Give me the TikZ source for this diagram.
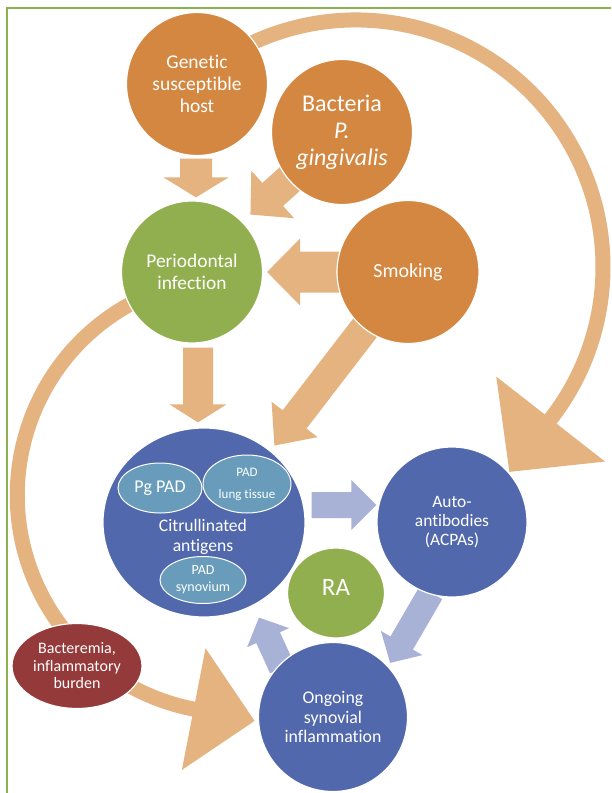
\documentclass[tikz,border=0pt]{standalone}
\usepackage{fontspec}
\setmainfont{Carlito}[Ligatures=NoCommon]
\usetikzlibrary{shapes.geometric,calc}
\definecolor{orgC}{RGB}{211,135,64}
\definecolor{orgA}{RGB}{228,179,128}
\definecolor{grnC}{RGB}{145,175,78}
\definecolor{bluC}{RGB}{82,104,172}
\definecolor{bluA}{RGB}{168,178,214}
\definecolor{padC}{RGB}{104,156,186}
\definecolor{redC}{RGB}{149,58,58}
\definecolor{frameC}{RGB}{140,178,80}
\pgfdeclarelayer{bg}
\pgfsetlayers{bg,main}
% #1 style, #2 start, #3 tip, #4 shaft half width, #5 head half width, #6 head length
\newcommand{\blockarrow}[6]{%
  \coordinate (ba-h) at ($(#3)!#6!(#2)$);
  \fill[#1] ($(#2)!#4!90:(#3)$) -- ($(ba-h)!#4!90:(#3)$) -- ($(ba-h)!#5!90:(#3)$)
    -- (#3) -- ($(ba-h)!#5!-90:(#3)$) -- ($(ba-h)!#4!-90:(#3)$) -- ($(#2)!#4!-90:(#3)$) -- cycle;}
\tikzset{
  circ/.style={ellipse, draw=white, line width=1.2pt, inner sep=0pt, text=white, align=center},
  orgN/.style={circ, fill=orgC},
  grnN/.style={circ, fill=grnC},
  bluN/.style={circ, fill=bluC},
  padN/.style={circ, fill=padC, line width=1pt},
  redN/.style={circ, fill=redC},
  lbl/.style={text=white, align=center, inner sep=0pt},
  bigarc/.style={draw=orgA, line width=15pt},
}
\begin{document}
\begin{tikzpicture}[x=1pt,y=1pt]
\useasboundingbox (0,0) rectangle (611,-793);

% nodes
\node[orgN, minimum width=141pt, minimum height=143pt, font=\fontsize{19.5}{22}\selectfont] (gen) at (197,-84) {Genetic\\susceptible\\host};
\node[orgN, minimum width=141pt, minimum height=145pt, font=\fontsize{24}{27}\selectfont] (bac) at (342,-132) {Bacteria\\\textit{P.}\\\textit{gingivalis}};
\node[grnN, minimum width=141pt, minimum height=142pt, font=\fontsize{19.4}{22}\selectfont] (per) at (192,-272) {Periodontal\\infection};
\node[orgN, minimum width=142pt, minimum height=143pt, font=\fontsize{20}{22}\selectfont] (smk) at (408,-272) {Smoking};
\node[bluN, minimum width=202pt, minimum height=189pt] (cit) at (204,-522.5) {};
\node[lbl, font=\fontsize{17.6}{20}\selectfont] (citt) at (203,-537) {Citrullinated\\antigens};
\node[padN, minimum width=84pt, minimum height=50pt, font=\fontsize{18}{20}\selectfont] (pg) at (160,-488) {Pg PAD};
\node[padN, minimum width=88pt, minimum height=58pt, font=\fontsize{13}{22}\selectfont] (lung) at (247,-484) {PAD\\lung tissue};
\node[padN, minimum width=86pt, minimum height=47pt, font=\fontsize{14}{17}\selectfont] (syn) at (203,-580) {PAD\\synovium};
\node[grnN, minimum width=97pt, minimum height=90pt] (ra) at (336,-593) {};
\node[lbl, font=\fontsize{25}{27}\selectfont] (rat) at (336,-587) {RA};
\node[bluN, minimum width=150pt, minimum height=150pt, font=\fontsize{17.4}{19}\selectfont] (auto) at (452,-522) {Auto-\\antibodies\\(ACPAs)};
\node[bluN, minimum width=149pt, minimum height=149pt, font=\fontsize{17.8}{19.5}\selectfont] (ong) at (333,-717) {Ongoing\\synovial\\inflammation};
\node[redN, minimum width=130pt, minimum height=85pt, font=\fontsize{16}{17.5}\selectfont] (bact) at (77,-666) {Bacteremia,\\inflammatory\\burden};

\begin{pgfonlayer}{bg}
\fill[white] (0,0) rectangle (611,-793);
\draw[frameC, line width=2pt] (7,-793) -- (7,-7.5) -- (611,-7.5);
% big curved arrows
\coordinate (tc) at (356,-267);
\draw[bigarc] ($(tc)+(115:247)$) arc[start angle=115, end angle=-40, radius=247];
\coordinate (tcE) at ($(tc)+(-38:247)$);
\fill[orgA] ($(tcE)+(142:69)$) -- ($(tcE)+(-38:69)$) -- ($(tcE)+(-128:67)$) -- cycle;

\coordinate (lc) at (235.3,-495.1);
\draw[bigarc] ($(lc)+(118:218)$) arc[start angle=118, end angle=261, radius=218];
\coordinate (lcE) at ($(lc)+(259:218)$);
\fill[orgA] ($(lcE)+(259:62)$) -- ($(lcE)+(79:62)$) -- ($(lcE)+(349:62)$) -- cycle;

% straight block arrows (orange)
\coordinate (a1s) at ($(gen.south)+(-1,-2.5)$);
\coordinate (a1t) at ($(per.north)+(4,3)$);
\blockarrow{orgA}{a1s}{a1t}{16pt}{32.5pt}{20pt}
\coordinate (a2s) at (bac.center);
\coordinate (a2t) at ($(per.45)+(8,7)$);
\blockarrow{orgA}{a2s}{a2t}{15.5pt}{32pt}{30pt}
\coordinate (a3s) at (smk.center);
\coordinate (a3t) at ($(per.east)+(4,0)$);
\blockarrow{orgA}{a3s}{a3t}{20.5pt}{33.5pt}{33pt}
\coordinate (a4s) at ($(per.south)+(6,-4)$);
\coordinate (a4t) at ($(cit.north)+(-6,5)$);
\blockarrow{orgA}{a4s}{a4t}{15pt}{28.5pt}{18pt}
\coordinate (a5s) at (smk.center);
\coordinate (a5t) at ($(cit.45)+(1,7.5)$);
\blockarrow{orgA}{a5s}{a5t}{15pt}{29pt}{33pt}

% blue block arrows
\coordinate (b1s) at ($(cit.east)+(6,17.5)$);
\coordinate (b1t) at ($(auto.west)+(0,17)$);
\blockarrow{bluA}{b1s}{b1t}{13pt}{25pt}{25pt}
\coordinate (b2s) at ($(auto.south)+(-21,5)$);
\coordinate (b2t) at ($(ong.45)+(4,1)$);
\blockarrow{bluA}{b2s}{b2t}{13pt}{24pt}{23pt}
\coordinate (b3s) at ($(ong.135)+(2,-4)$);
\coordinate (b3t) at ($(cit.south)+(55,0)$);
\blockarrow{bluA}{b3s}{b3t}{13pt}{23pt}{22pt}
\end{pgfonlayer}
\end{tikzpicture}
\end{document}
